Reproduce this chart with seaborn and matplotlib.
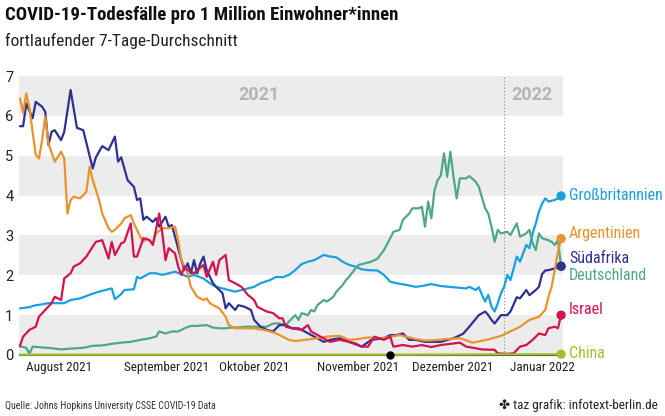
import pandas as pd
import matplotlib.pyplot as plt
import matplotlib.dates as mdates
import seaborn as sns

start = pd.Timestamp("2021-08-01")

# days after 1 Aug 2021 / deaths per million (7-day average)
gb_days = [0, 3, 5, 7, 9, 12, 14, 16, 19, 22, 25, 27, 29, 30, 32, 33, 36, 37, 38, 41, 43, 45, 47, 49, 51, 53, 55, 58, 60, 62, 64, 66, 68, 70, 72, 74, 76, 79, 81, 83, 85, 87, 89, 91, 93, 96, 98, 100, 102, 104, 106, 108, 110, 113, 115, 117, 119, 122, 125, 127, 130, 133, 137, 141, 142, 144, 145, 146, 147, 148, 149, 150, 151, 152, 153, 154, 155, 156, 157, 158, 160, 161, 162, 163, 164, 165, 166, 167, 169, 170, 171]
gb_vals = [1.17, 1.20, 1.25, 1.27, 1.30, 1.30, 1.30, 1.38, 1.42, 1.51, 1.59, 1.63, 1.67, 1.40, 1.53, 1.63, 1.65, 1.96, 1.92, 2.05, 2.05, 2.01, 2.05, 2.09, 2.03, 1.96, 2.01, 1.92, 1.80, 1.71, 1.67, 1.63, 1.59, 1.63, 1.67, 1.71, 1.80, 1.88, 1.96, 1.95, 2.01, 2.13, 2.28, 2.34, 2.38, 2.51, 2.47, 2.45, 2.34, 2.26, 2.22, 2.15, 2.13, 2.12, 2.01, 1.84, 1.80, 1.76, 1.71, 1.73, 1.78, 1.73, 1.70, 1.67, 1.71, 1.63, 1.70, 1.51, 1.34, 1.51, 1.21, 1.09, 1.30, 1.55, 1.71, 2.01, 1.88, 2.17, 2.47, 2.34, 2.76, 2.68, 3.05, 3.30, 3.60, 3.80, 3.93, 3.85, 3.89, 3.93, 3.99]

de_days = [0, 1, 2, 3, 4, 7, 10, 13, 16, 20, 23, 26, 29, 32, 35, 38, 41, 43, 44, 46, 48, 50, 52, 54, 56, 59, 61, 63, 65, 67, 69, 71, 74, 78, 80, 82, 84, 85, 87, 88, 89, 91, 92, 93, 94, 96, 97, 99, 100, 102, 103, 104, 106, 107, 109, 111, 113, 115, 117, 118, 120, 121, 123, 124, 126, 127, 128, 129, 130, 131, 132, 133, 134, 135, 136, 137, 138, 139, 141, 142, 144, 145, 147, 148, 149, 150, 151, 152, 154, 155, 157, 158, 160, 161, 162, 163, 164, 165, 167, 168, 169, 170, 171]
de_vals = [0.21, 0.20, 0.18, 0.03, 0.21, 0.19, 0.17, 0.14, 0.16, 0.18, 0.23, 0.24, 0.28, 0.31, 0.33, 0.38, 0.42, 0.46, 0.59, 0.54, 0.59, 0.59, 0.67, 0.73, 0.73, 0.75, 0.69, 0.67, 0.67, 0.69, 0.69, 0.71, 0.71, 0.71, 0.79, 0.79, 0.75, 0.84, 1.00, 0.88, 1.05, 1.00, 1.13, 1.09, 1.25, 1.38, 1.34, 1.46, 1.59, 1.76, 1.88, 1.96, 2.17, 2.26, 2.30, 2.34, 2.42, 2.63, 2.93, 3.09, 3.14, 3.39, 3.55, 3.68, 3.68, 3.72, 3.22, 3.85, 3.43, 4.14, 4.39, 4.50, 5.06, 4.47, 5.10, 4.47, 3.93, 4.43, 4.43, 4.49, 4.35, 4.22, 3.68, 3.55, 3.22, 2.84, 3.14, 3.05, 3.09, 3.01, 3.30, 2.97, 3.05, 3.14, 2.80, 2.63, 3.05, 2.93, 2.88, 2.84, 2.76, 2.88, 2.22]

sa_days = [0, 1, 2, 4, 5, 7, 8, 9, 10, 11, 13, 14, 16, 18, 20, 23, 24, 26, 28, 30, 31, 32, 34, 36, 37, 38, 39, 40, 42, 43, 44, 46, 47, 48, 49, 51, 52, 53, 54, 55, 56, 57, 58, 59, 61, 62, 64, 65, 66, 68, 69, 71, 73, 74, 76, 78, 80, 82, 84, 86, 88, 90, 93, 96, 98, 101, 104, 108, 111, 115, 117, 119, 121, 123, 125, 128, 131, 133, 137, 140, 142, 145, 147, 148, 149, 150, 152, 154, 155, 157, 158, 160, 161, 163, 164, 165, 166, 167, 168, 170, 171]
sa_vals = [5.74, 5.74, 6.31, 5.94, 6.35, 6.23, 6.10, 5.27, 5.60, 5.64, 5.39, 5.60, 6.65, 5.70, 5.64, 4.68, 4.96, 5.24, 5.14, 5.48, 4.85, 4.96, 4.39, 4.22, 3.89, 3.93, 3.39, 3.47, 3.34, 3.43, 3.22, 3.47, 3.22, 3.26, 2.97, 2.38, 2.13, 2.30, 2.05, 2.38, 2.05, 2.30, 2.47, 2.13, 1.80, 1.71, 1.55, 1.17, 1.30, 1.13, 1.25, 1.21, 1.13, 0.88, 0.71, 0.63, 0.59, 0.75, 0.75, 0.67, 0.67, 0.59, 0.46, 0.33, 0.38, 0.42, 0.33, 0.21, 0.38, 0.42, 0.50, 0.50, 0.54, 0.38, 0.38, 0.33, 0.33, 0.33, 0.42, 0.53, 0.71, 1.00, 1.09, 1.00, 0.88, 0.79, 1.00, 1.00, 1.09, 1.45, 1.42, 1.63, 1.50, 1.63, 1.71, 2.03, 2.12, 2.13, 2.15, 2.20, 2.23]

ar_days = [0, 1, 2, 3, 4, 5, 6, 7, 8, 9, 11, 13, 14, 15, 16, 17, 19, 21, 22, 23, 25, 26, 28, 29, 30, 32, 33, 35, 36, 38, 39, 40, 42, 43, 45, 47, 49, 50, 51, 53, 54, 56, 58, 59, 60, 62, 63, 65, 66, 68, 72, 74, 77, 79, 81, 83, 85, 87, 90, 94, 97, 101, 104, 107, 110, 114, 117, 120, 122, 125, 128, 131, 135, 139, 143, 148, 152, 156, 158, 161, 164, 166, 167, 168, 169, 170, 171]
ar_vals = [6.44, 6.08, 6.56, 6.20, 5.60, 5.02, 4.93, 5.39, 5.98, 5.31, 4.85, 5.10, 4.93, 3.55, 3.89, 3.97, 3.93, 4.10, 4.72, 4.39, 3.89, 3.55, 3.18, 3.09, 3.14, 3.30, 3.43, 3.51, 3.30, 2.97, 2.84, 2.93, 2.80, 3.05, 3.18, 3.18, 3.22, 2.88, 2.38, 2.05, 1.71, 1.46, 1.38, 1.42, 1.30, 1.21, 1.17, 0.96, 0.75, 0.67, 0.67, 0.67, 0.63, 0.59, 0.54, 0.46, 0.38, 0.35, 0.38, 0.42, 0.46, 0.48, 0.38, 0.40, 0.44, 0.42, 0.46, 0.50, 0.46, 0.40, 0.36, 0.37, 0.40, 0.42, 0.31, 0.39, 0.48, 0.63, 0.71, 0.88, 0.96, 1.13, 1.46, 1.71, 2.13, 2.59, 2.92]

il_days = [0, 1, 3, 5, 6, 8, 10, 11, 13, 14, 16, 17, 19, 21, 23, 24, 26, 28, 29, 30, 32, 33, 35, 36, 37, 39, 41, 42, 44, 45, 46, 47, 49, 50, 51, 52, 53, 54, 55, 58, 59, 61, 62, 63, 65, 66, 68, 70, 72, 74, 75, 78, 80, 82, 83, 84, 86, 89, 91, 92, 95, 98, 101, 104, 106, 108, 110, 112, 115, 117, 118, 121, 124, 127, 130, 133, 137, 139, 141, 144, 146, 150, 151, 154, 156, 158, 160, 162, 163, 164, 166, 167, 169, 170, 171]
il_vals = [0.23, 0.46, 0.63, 0.71, 0.96, 1.13, 1.30, 1.46, 1.38, 1.92, 2.05, 2.22, 2.30, 2.47, 2.72, 2.84, 2.88, 2.42, 2.84, 2.51, 2.80, 2.84, 3.30, 2.47, 2.47, 2.93, 2.88, 2.76, 3.55, 3.05, 2.38, 2.68, 2.55, 2.22, 2.01, 2.22, 2.13, 2.09, 2.05, 2.26, 1.96, 2.34, 2.01, 2.38, 2.51, 1.88, 1.80, 1.71, 1.51, 1.38, 1.21, 1.09, 1.05, 0.92, 0.92, 0.71, 0.67, 0.63, 0.75, 0.59, 0.46, 0.33, 0.38, 0.33, 0.29, 0.21, 0.21, 0.46, 0.38, 0.46, 0.21, 0.25, 0.21, 0.25, 0.20, 0.25, 0.29, 0.31, 0.21, 0.17, 0.14, 0.13, 0.04, 0.03, 0.04, 0.21, 0.25, 0.38, 0.46, 0.54, 0.50, 0.67, 0.71, 0.67, 1.00]

cn_days = [0, 60, 120, 171]
cn_vals = [0.01, 0.01, 0.01, 0.02]

countries = ["Großbritannien", "Deutschland", "Südafrika", "Argentinien", "Israel", "China"]
colors = ["#1a9fe0", "#4ea888", "#2e3192", "#ea922c", "#d3124f", "#9fc42c"]
label_y = [3.99, 2.0, 2.41, 3.06, 1.15, 0.04]

month_starts = pd.date_range("2021-08-01", "2022-01-01", freq="MS")
month_labels = ["August 2021", "September 2021", "Oktober 2021", "November 2021", "Dezember 2021", "Januar 2022"]

series = {
    "Großbritannien": (gb_days, gb_vals),
    "Deutschland": (de_days, de_vals),
    "Südafrika": (sa_days, sa_vals),
    "Argentinien": (ar_days, ar_vals),
    "Israel": (il_days, il_vals),
    "China": (cn_days, cn_vals),
}

rows = []
for land, (days, vals) in series.items():
    for d, v in zip(days, vals, strict=True):
        rows.append({"land": land, "datum": start + pd.Timedelta(days=d), "wert": v})
df = pd.DataFrame(rows)
last = df.groupby("land", sort=False).tail(1)

sns.set_style("white")
cond = ["Roboto Condensed", "Archivo Narrow", "Roboto", "DejaVu Sans"]
plain = ["Roboto", "DejaVu Sans"]
plt.rcParams["font.family"] = plain

palette = dict(zip(countries, colors))

fig = plt.figure(figsize=(6.65, 4.16), dpi=100)
ax = fig.add_axes([19 / 665, 61 / 416, 544 / 665, 279 / 416])

for lo in [0, 2, 4, 6]:
    ax.axhspan(lo, lo + 1, color="#ececec", lw=0, zorder=0)

jan = mdates.date2num(pd.Timestamp("2022-01-01"))
ax.axvline(jan, color="#888888", lw=0.8, ls=(0, (1, 2)), zorder=1)

sns.lineplot(data=df, x="datum", y="wert", hue="land", hue_order=countries,
             palette=palette, linewidth=1.6, estimator=None, legend=False,
             ax=ax, zorder=3)
for ln in ax.lines:
    ln.set_clip_on(False)
sns.scatterplot(data=last, x="datum", y="wert", hue="land", hue_order=countries,
                palette=palette, s=45, linewidth=0, legend=False, ax=ax,
                zorder=5, clip_on=False)

ax.plot(mdates.date2num(start + pd.Timedelta(days=117)), 0, "o", color="black",
        ms=5, clip_on=False, zorder=6)

x0 = mdates.date2num(start)
ax.set_xlim(x0 - 0.3, x0 + 171.6)
ax.set_ylim(0, 7)
ax.set_yticks(range(8))
ax.tick_params(axis="y", length=0, pad=4, labelsize=10.5, labelcolor="#222222")
ax.set_xticks(mdates.date2num(month_starts))
ax.set_xticklabels([])
ax.tick_params(axis="x", length=16, width=1, color="#222222", direction="out")
ax.set_xlabel("")
ax.set_ylabel("")
for s in ["top", "right", "left"]:
    ax.spines[s].set_visible(False)
ax.spines["bottom"].set_color("#333333")
ax.spines["bottom"].set_linewidth(0.8)

tr = ax.get_xaxis_transform()
for ms, lab in zip(month_starts, month_labels):
    ax.text(mdates.date2num(ms) + 2.0, -0.045, lab, transform=tr, ha="left",
            va="center", fontsize=9.5, color="#222222", family=cond)

ax.text(x0 + 75.4, 6.52, "2021", ha="center", va="center", fontsize=13,
        fontweight="bold", color="#b5b5b5")
ax.text(x0 + 161.8, 6.52, "2022", ha="center", va="center", fontsize=13,
        fontweight="bold", color="#b5b5b5")

for land, col, y in zip(countries, colors, label_y):
    ax.text(x0 + 173.5, y, land, ha="left", va="center", fontsize=11.5,
            color=col, clip_on=False, family=cond)

fig.text(5 / 665, 1 - 15 / 416, "COVID-19-Todesfälle pro 1 Million Einwohner*innen",
         ha="left", va="center", fontsize=13.5, fontweight="bold", color="#111111",
         family=cond)
fig.text(5 / 665, 1 - 41 / 416, "fortlaufender 7-Tage-Durchschnitt",
         ha="left", va="center", fontsize=12.5, color="#222222", family=cond)
fig.text(5 / 665, 1 - 406 / 416, "Quelle: Johns Hopkins University CSSE COVID-19 Data",
         ha="left", va="center", fontsize=7.1, color="#333333", family=cond)
fig.text(658 / 665, 1 - 406 / 416, "✤ taz grafik: infotext-berlin.de",
         ha="right", va="center", fontsize=9.5, color="#222222", family=cond)

fig.savefig("out.png", dpi=100)
